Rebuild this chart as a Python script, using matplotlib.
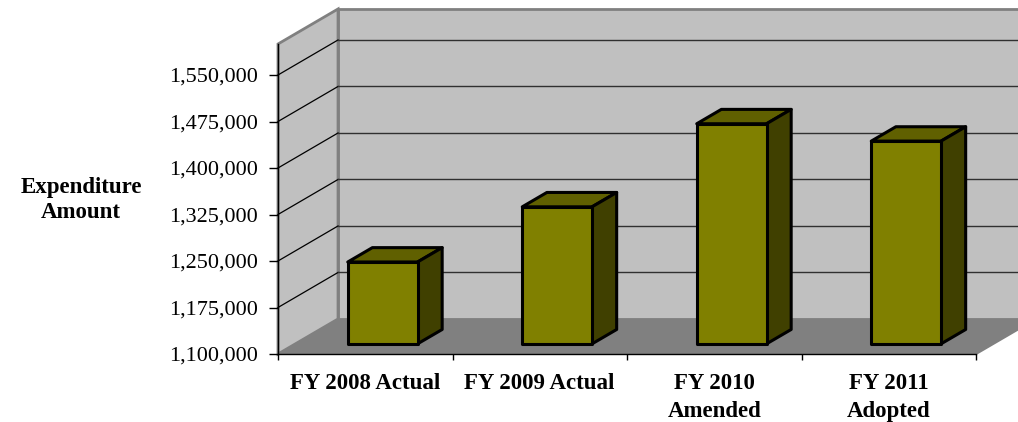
import matplotlib.pyplot as plt
from matplotlib.patches import Polygon, Rectangle
from matplotlib.ticker import FuncFormatter

# Data
categories = ['FY 2008 Actual', 'FY 2009 Actual', 'FY 2010\nAmended', 'FY 2011\nAdopted']
expenditure = [1232000, 1321000, 1455000, 1427000]
y_ticks = [1100000, 1175000, 1250000, 1325000, 1400000, 1475000, 1550000]

y_min, y_max = 1100000, 1600000
DX, DY = 0.344, 56500          # depth of the 3d box in data units
front, depth = 0.29, 0.41      # bar position / depth as fraction of the box
bar_w = 0.4

plt.rcParams['font.family'] = ['Liberation Serif', 'DejaVu Serif']

fig = plt.figure(figsize=(10.18, 4.22), dpi=100)
ax = fig.add_axes([278 / 1018, (422 - 354) / 422, 698 / 1018, 310 / 422])
ax.set_xlim(0, len(categories))
ax.set_ylim(y_min, y_max)
ax.patch.set_visible(False)

n = len(categories)
wall_kw = dict(clip_on=False, zorder=0)

# back wall and left wall
ax.add_patch(Polygon([(DX, y_min + DY), (DX, y_max + DY), (n + 1, y_max + DY), (n + 1, y_min + DY)],
                     facecolor='#c0c0c0', edgecolor='#808080', lw=2, **wall_kw))
ax.add_patch(Polygon([(0, y_min), (0, y_max), (DX, y_max + DY), (DX, y_min + DY)],
                     facecolor='#c0c0c0', edgecolor='#808080', lw=2, **wall_kw))

# gridlines on walls
for t in y_ticks[1:]:
    ax.plot([0, DX], [t, t + DY], color='black', lw=0.9, clip_on=False, zorder=1)
    ax.plot([DX, n + 1], [t + DY, t + DY], color='#303030', lw=1.0, clip_on=False, zorder=1)

# floor
ax.add_patch(Polygon([(0, y_min), (n, y_min), (n + DX, y_min + DY), (DX, y_min + DY)],
                     facecolor='#808080', edgecolor='none', clip_on=False, zorder=2))
ax.plot([n, n + DX], [y_min, y_min + DY], color='#808080', lw=1.5, clip_on=False, zorder=2)

# 3d bars
bar_kw = dict(edgecolor='black', lw=2.2, joinstyle='round', clip_on=False, zorder=3)
for i, v in enumerate(expenditure):
    x0 = i + (1 - bar_w) / 2 + front * DX
    b0 = y_min + front * DY
    t0 = v + front * DY
    ddx, ddy = depth * DX, depth * DY
    ax.add_patch(Polygon([(x0, t0), (x0 + bar_w, t0), (x0 + bar_w + ddx, t0 + ddy), (x0 + ddx, t0 + ddy)],
                         facecolor='#606000', **bar_kw))
    ax.add_patch(Polygon([(x0 + bar_w, b0), (x0 + bar_w, t0), (x0 + bar_w + ddx, t0 + ddy), (x0 + bar_w + ddx, b0 + ddy)],
                         facecolor='#404000', **bar_kw))
    ax.add_patch(Rectangle((x0, b0), bar_w, v - y_min, facecolor='#808000', **bar_kw))

# axes
for s in ['top', 'right']:
    ax.spines[s].set_visible(False)
for s in ['left', 'bottom']:
    ax.spines[s].set_color('black')
    ax.spines[s].set_linewidth(1.0)
    ax.spines[s].set_zorder(4)

ax.set_yticks(y_ticks)
ax.yaxis.set_major_formatter(FuncFormatter(lambda v, p: f'{int(v):,}'))
ax.tick_params(axis='y', length=6.5, width=1, pad=8, labelsize=16, colors='black')

ax.set_xticks(range(n + 1))
ax.set_xticklabels([])
ax.tick_params(axis='x', which='major', length=4.5, width=1)
ax.set_xticks([i + 0.5 for i in range(n)], minor=True)
ax.set_xticklabels(categories, minor=True, fontweight='bold', fontsize=16.5, linespacing=1.38)
ax.tick_params(axis='x', which='minor', length=0, pad=14)

fig.text(81 / 1018, 1 - 200 / 422, 'Expenditure\nAmount', ha='center', va='center',
         fontweight='bold', fontsize=16.5, linespacing=1.25)

fig.savefig('out.png', dpi=100)
